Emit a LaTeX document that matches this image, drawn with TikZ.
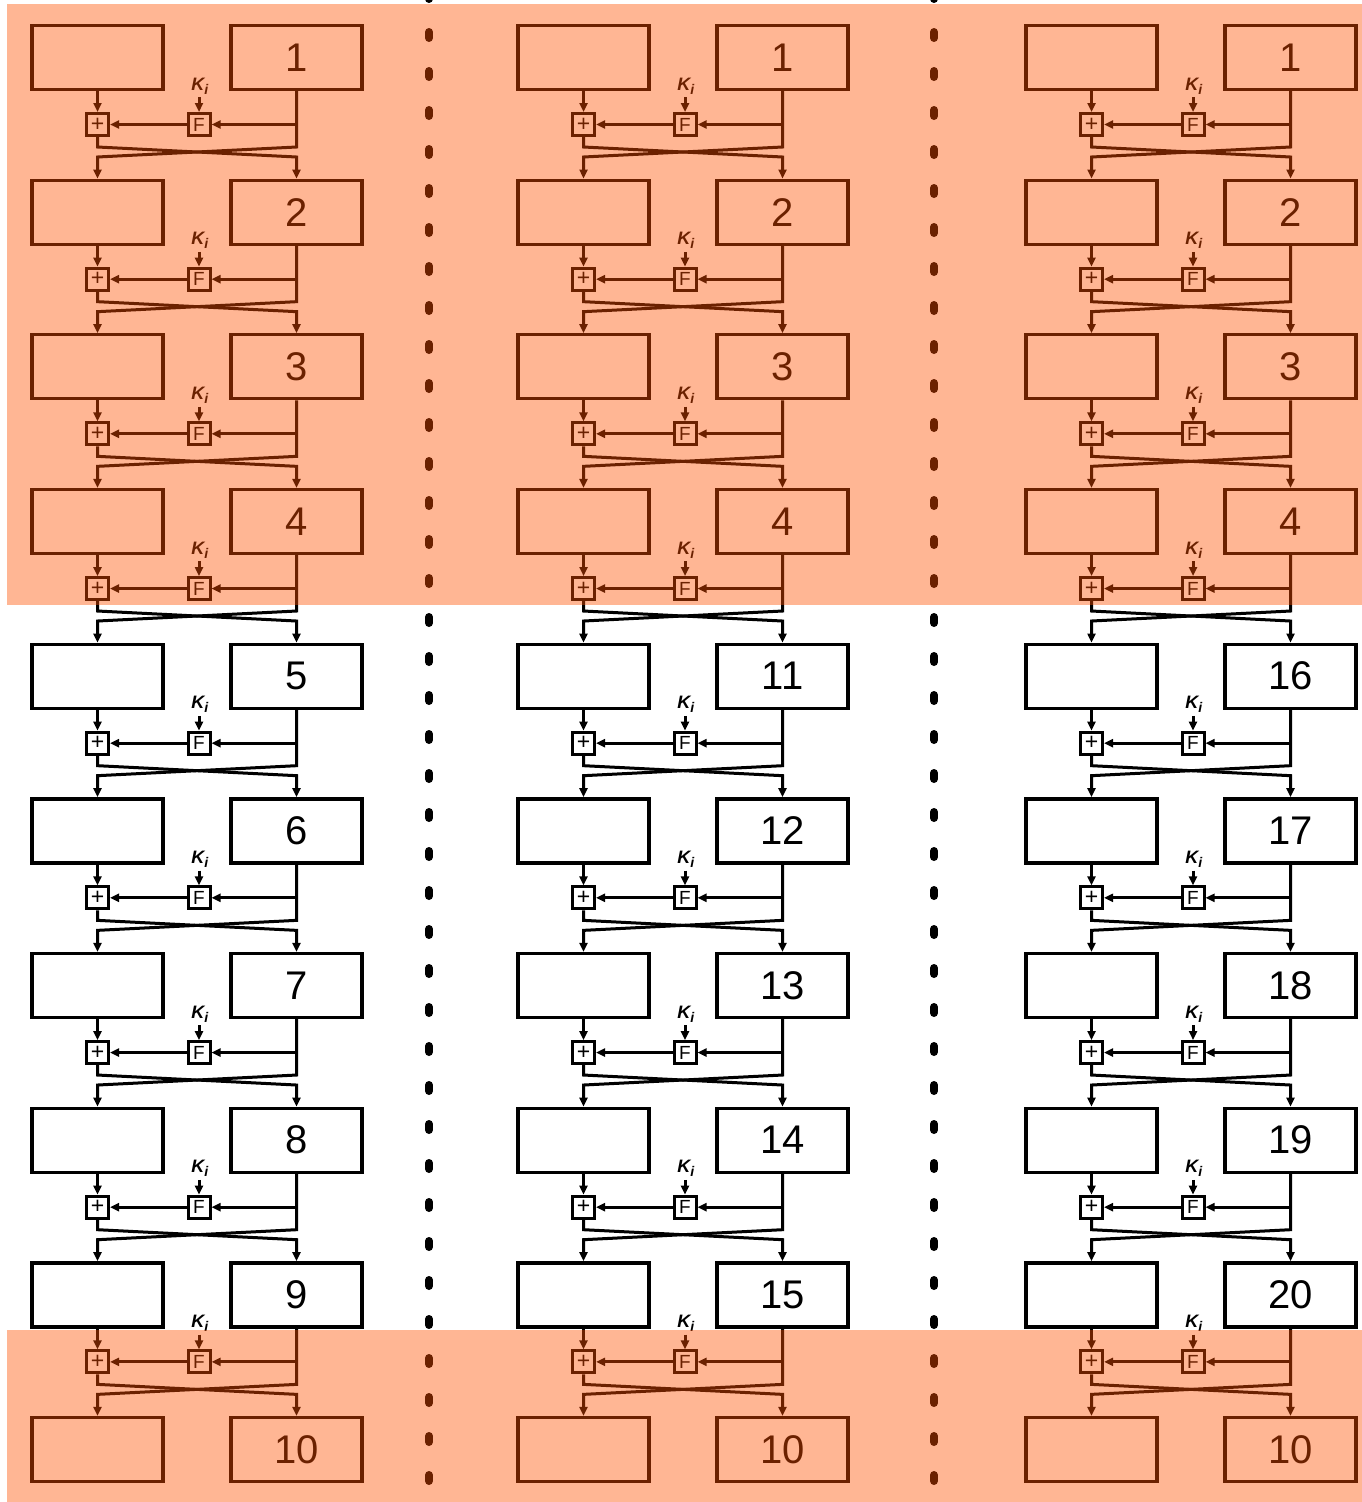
\documentclass[tikz,border=0pt]{standalone}
\usepackage{fontspec}
\setmainfont{Liberation Sans}
\usepackage{tikz}
\usetikzlibrary{arrows.meta,positioning,calc}
\definecolor{feistelhi}{RGB}{255,80,0}

\begin{document}
\begin{tikzpicture}[
  x=1pt, y=-1pt,
  half/.style={draw, line width=3.3pt, minimum width=131pt, minimum height=64pt, inner sep=0pt, font=\fontsize{40}{40}\selectfont},
  op/.style={draw, line width=3pt, minimum width=22pt, minimum height=22pt, inner sep=0pt, font=\fontsize{19}{19}\selectfont},
  key/.style={inner sep=0pt, outer sep=3pt, font=\fontsize{18}{18}\selectfont\bfseries\itshape},
  arr/.style={-{Triangle[length=9pt,width=8pt]}, line width=3pt},
  sep/.style={line width=8pt, line cap=round, dash pattern=on 6pt off 33pt},
  hi/.style={fill=feistelhi, opacity=0.42}
]
\useasboundingbox (0,0) rectangle (1362,1502);
\clip (0,0) rectangle (1362,1502);

% three feistel columns
\foreach \c/\dx/\add in {1/0/0,2/486/6,3/994/11}{
  \foreach \r in {1,...,10}{
    \pgfmathsetmacro\ytop{24+154.67*(\r-1)}
    \pgfmathtruncatemacro\num{(\r<5 || \r>9) ? \r : \r+\add}
    \node[half] (L-\c-\r) at (97.5+\dx,\ytop+33.5) {};
    \node[half] (R-\c-\r) at (296.5+\dx,\ytop+33.5) {\num};
  }
  \foreach \r in {1,...,9}{
    \pgfmathsetmacro\ytop{24+154.67*(\r-1)}
    \pgfmathtruncatemacro\n{\r+1}
    \node[op, font=\fontsize{23}{23}\selectfont] (P-\c-\r) at (97.5+\dx,\ytop+100.5) {+};
    \node[op] (F-\c-\r) at (199+\dx,\ytop+100.5) {F};
    \node[key] (K-\c-\r) at (200+\dx,\ytop+62) {K\textsubscript{\fontsize{14}{14}\selectfont i}};
    \coordinate (XT-\c-\r) at (0,\ytop+123);
    \coordinate (XB-\c-\r) at (0,\ytop+133);
    \draw[arr] (L-\c-\r) -- (P-\c-\r);
    \draw[arr] (F-\c-\r.north |- K-\c-\r.south) -- (F-\c-\r);
    \draw[arr] (F-\c-\r) -- (P-\c-\r);
    \draw[arr] (R-\c-\r.south |- F-\c-\r) -- (F-\c-\r);
    % swap halves
    \draw[arr] (P-\c-\r.south) -- (P-\c-\r.south |- XT-\c-\r) -- (R-\c-\r.south |- XB-\c-\r) -- (R-\c-\n);
    \draw[arr] (R-\c-\r.south) -- (R-\c-\r.south |- XT-\c-\r) -- (P-\c-\r.south |- XB-\c-\r) -- (L-\c-\n);
  }
}

% column separators
\draw[sep] (429,-7) -- (429,1520);
\draw[sep] (934,-7) -- (934,1520);

% highlighted rounds
\fill[hi] (7,4) rectangle (1362,605);
\fill[hi] (7,1330) rectangle (1362,1502);
\end{tikzpicture}
\end{document}
